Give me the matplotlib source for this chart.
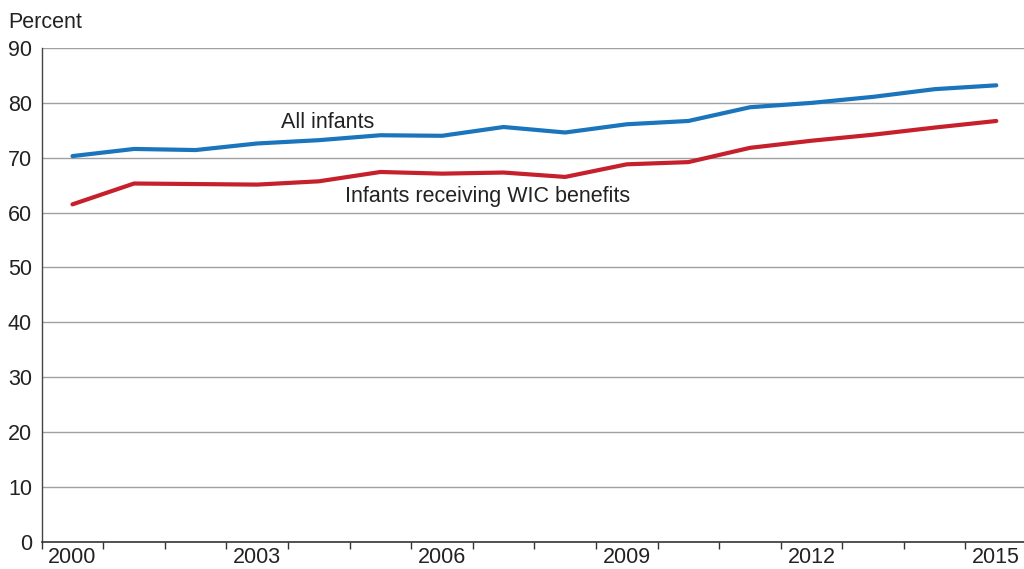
import matplotlib
matplotlib.use("Agg")
import matplotlib.pyplot as plt

years = list(range(2000, 2016))
all_infants = [70.3, 71.6, 71.4, 72.6, 73.2, 74.1, 74.0, 75.6, 74.6, 76.1, 76.7, 79.2, 80.0, 81.1, 82.5, 83.2]
wic_infants = [61.5, 65.3, 65.2, 65.1, 65.7, 67.4, 67.1, 67.3, 66.5, 68.8, 69.2, 71.8, 73.1, 74.2, 75.5, 76.7]
y_ticks = [0, 10, 20, 30, 40, 50, 60, 70, 80, 90]
x_labels = [2000, 2003, 2006, 2009, 2012, 2015]

plt.rcParams['font.family'] = ['Liberation Sans', 'DejaVu Sans']
FS = 15.5

fig = plt.figure(figsize=(10.24, 5.69), dpi=100)
ax = fig.add_axes([0.0407, 0.048, 0.9593, 0.8676])

ax.set_xlim(1999.5, 2015.45)
ax.set_ylim(0, 90)

for t in y_ticks[1:]:
    ax.axhline(t, color='#a0a0a0', lw=1.0, zorder=1)

ax.plot(years, all_infants, color='#1a75bc', lw=3.0, solid_capstyle='round', zorder=3)
ax.plot(years, wic_infants, color='#c5202c', lw=3.0, solid_capstyle='round', zorder=3)

ax.set_yticks(y_ticks)
ax.set_yticklabels([str(t) for t in y_ticks], fontsize=FS, color='#222222')
ax.tick_params(axis='y', length=0, pad=7)

ax.set_xticks([y + 0.5 for y in range(1999, 2015)])
ax.set_xticklabels([])
ax.set_xticks(x_labels, minor=True)
ax.set_xticklabels([str(x) for x in x_labels], minor=True, fontsize=FS, color='#222222')
ax.tick_params(axis='x', which='major', length=5, width=1, color='#333333', direction='out')
ax.tick_params(axis='x', which='minor', length=0, pad=4)

for s in ['top', 'right']:
    ax.spines[s].set_visible(False)
ax.spines['left'].set_color('#444444')
ax.spines['bottom'].set_color('#333333')
ax.spines['left'].set_linewidth(1.0)
ax.spines['bottom'].set_linewidth(1.2)

ax.text(2004.15, 76.4, 'All infants', fontsize=FS, color='#222222', ha='center', va='center')
ax.text(2004.42, 62.9, 'Infants receiving WIC benefits', fontsize=FS, color='#222222', ha='left', va='center')

fig.text(8 / 1024, 1 - 22 / 569, 'Percent', fontsize=FS, color='#222222', ha='left', va='center')

fig.savefig('out.png', dpi=100)
